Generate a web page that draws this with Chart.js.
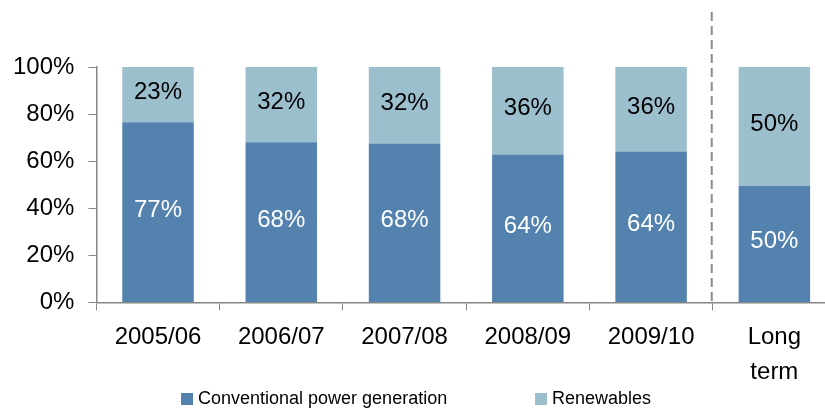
<!DOCTYPE html>
<html>
<head>
<meta charset="utf-8">
<script src="https://cdn.jsdelivr.net/npm/chart.js@4.4.0/dist/chart.umd.min.js"></script>
<style>
  html, body { margin: 0; padding: 0; background: #fff; overflow: hidden; }
  #wrap { width: 838px; height: 409px; }
</style>
</head>
<body>
<div id="wrap"><canvas id="genChart" width="838" height="409"></canvas></div>
<script>
// ---- DATA ----
const categories = ["2005/06", "2006/07", "2007/08", "2008/09", "2009/10", ["Long", "term"]];
const conventional = [76.5, 68.0, 67.5, 62.8, 64.1, 49.6];
const renewables = [23.5, 32.0, 32.5, 37.2, 35.9, 50.4];
const conventionalLabels = ["77%", "68%", "68%", "64%", "64%", "50%"];
const renewablesLabels = ["23%", "32%", "32%", "36%", "36%", "50%"];
const yTicks = [0, 20, 40, 60, 80, 100];

const FONT = "'Liberation Sans', Arial, sans-serif";
const AXIS_GRAY = "#868686";

// ---- LABELS INSIDE BARS ----
const barLabels = {
  id: "barLabels",
  afterDatasetsDraw(chart) {
    const ctx = chart.ctx;
    ctx.save();
    ctx.font = "24px " + FONT;
    ctx.textAlign = "center";
    ctx.textBaseline = "middle";
    chart.data.datasets.forEach((ds, di) => {
      const meta = chart.getDatasetMeta(di);
      meta.data.forEach((bar, i) => {
        const p = bar.getProps(["x", "y", "base"], true);
        ctx.fillStyle = ds.labelColor;
        ctx.fillText(ds.valueLabels[i], p.x, (p.y + p.base) / 2 - 2);
      });
    });
    ctx.restore();
  },
};

// ---- DASHED SEPARATOR BEFORE "LONG TERM" ----
const separator = {
  id: "separator",
  afterDraw(chart) {
    const x = chart.scales.x;
    const px = (x.getPixelForValue(4) + x.getPixelForValue(5)) / 2 - 1;
    const ctx = chart.ctx;
    ctx.save();
    ctx.strokeStyle = "#8c8c8c";
    ctx.lineWidth = 2;
    ctx.setLineDash([9, 5]);
    ctx.beginPath();
    ctx.moveTo(px, 12);
    ctx.lineTo(px, chart.chartArea.bottom);
    ctx.stroke();
    ctx.restore();
  },
};

// ---- LEGEND (bottom) ----
const bottomLegend = {
  id: "bottomLegend",
  afterDraw(chart) {
    const ctx = chart.ctx;
    const items = [
      { x: 181, ds: chart.data.datasets[0] },
      { x: 535, ds: chart.data.datasets[1] },
    ];
    ctx.save();
    ctx.font = "18px " + FONT;
    ctx.textBaseline = "middle";
    ctx.textAlign = "left";
    items.forEach((it) => {
      ctx.fillStyle = it.ds.backgroundColor;
      ctx.fillRect(it.x, 393, 12, 12);
      ctx.fillStyle = "#000";
      ctx.fillText(it.ds.label, it.x + 17, 399);
    });
    ctx.restore();
  },
};

const ctx = document.getElementById("genChart").getContext("2d");
const genChart = new Chart(ctx, {
  type: "bar",
  data: {
    labels: categories,
    datasets: [
      {
        label: "Conventional power generation",
        data: conventional,
        backgroundColor: "#5482AF",
        valueLabels: conventionalLabels,
        labelColor: "#ffffff",
        barPercentage: 0.58,
        categoryPercentage: 1,
      },
      {
        label: "Renewables",
        data: renewables,
        backgroundColor: "#9CBFCE",
        valueLabels: renewablesLabels,
        labelColor: "#000000",
        barPercentage: 0.58,
        categoryPercentage: 1,
      },
    ],
  },
  options: {
    responsive: false,
    animation: false,
    layout: { padding: { left: -1, right: 2, top: 67, bottom: 9 } },
    plugins: {
      legend: { display: false },
      tooltip: { enabled: false },
    },
    scales: {
      x: {
        stacked: true,
        grid: {
          offset: true,
          drawOnChartArea: false,
          tickLength: 8,
          color: AXIS_GRAY,
        },
        border: { color: AXIS_GRAY, width: 1.5 },
        ticks: {
          color: "#000",
          padding: 10,
          maxRotation: 0,
          font: { family: FONT, size: 24, lineHeight: 1.45 },
        },
      },
      y: {
        stacked: true,
        min: 0,
        max: 100,
        afterBuildTicks: (axis) => {
          axis.ticks = yTicks.map((v) => ({ value: v }));
        },
        grid: {
          drawOnChartArea: false,
          tickLength: 8,
          color: AXIS_GRAY,
        },
        border: { color: AXIS_GRAY, width: 1.5 },
        ticks: {
          color: "#000",
          padding: 14,
          callback: (v) => v + "%",
          font: { family: FONT, size: 24 },
        },
      },
    },
  },
  plugins: [barLabels, separator, bottomLegend],
});
</script>
</body>
</html>
